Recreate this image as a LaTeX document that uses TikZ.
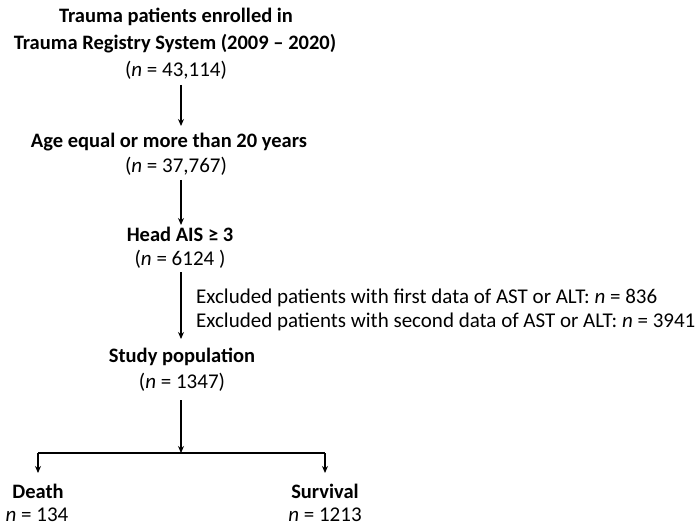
\documentclass[tikz,border=0pt]{standalone}
\usepackage{fontspec}
\setmainfont{Carlito}
\usetikzlibrary{arrows.meta}
\begin{document}
\begin{tikzpicture}[x=1pt,y=-1pt,
  lbl/.style={inner sep=0pt,font=\fontsize{21}{24}\selectfont,anchor=center},
  bl/.style={lbl,font=\fontsize{20.5}{24}\selectfont\bfseries},
  arr/.style={line width=1.4pt,-{Stealth[length=7pt,width=6pt]}},
  ln/.style={line width=1.4pt}]
\useasboundingbox (0,0) rectangle (698,529);
\node[bl] (t1) at (176,17) {Trauma patients enrolled in};
\node[bl] (t2) at (175,44) {Trauma Registry System (2009 – 2020)};
\node[lbl] (t3) at (176,70) {(\textit{n} = 43,114)};
\coordinate (a1s) at (181,85);
\coordinate (a1e) at (181,126);
\draw[arr] (a1s) -- (a1e);
\node[bl] (g1) at (169,142) {Age equal or more than 20 years};
\node[lbl] (g2) at (176,166) {(\textit{n} = 37,767)};
\coordinate (a2s) at (181,180);
\coordinate (a2e) at (181,225);
\draw[arr] (a2s) -- (a2e);
\node[bl] (h1) at (180,234) {Head AIS ≥ 3};
\node[lbl] (h2) at (180,259) {(\textit{n} = 6124 )};
\coordinate (a3s) at (181,272);
\coordinate (a3e) at (181,339);
\draw[arr] (a3s) -- (a3e);
\node[lbl,anchor=west] (e1) at (196,298) {Excluded patients with first data of AST or ALT: \textit{n} = 836};
\node[lbl,anchor=west] (e2) at (196,322) {Excluded patients with second data of AST or ALT: \textit{n} = 3941};
\node[bl] (s1) at (182,357) {Study population};
\node[lbl] (s2) at (182,382) {(\textit{n} = 1347)};
\coordinate (a4s) at (181,400);
\coordinate (sp) at (181,453);
\draw[arr] (a4s) -- (sp);
\coordinate (dl) at (38,453);
\coordinate (dr) at (325,453);
\coordinate (dle) at (38,473);
\coordinate (dre) at (325,473);
\draw[ln] (dl) -- (dr);
\draw[arr] (dl) -- (dle);
\draw[arr] (dr) -- (dre);
\node[bl] (d1) at (38,491) {Death};
\node[lbl] (d2) at (37,515) {\textit{n} = 134};
\node[bl] (v1) at (325,491) {Survival};
\node[lbl] (v2) at (325,515) {\textit{n} = 1213};
\end{tikzpicture}
\end{document}
